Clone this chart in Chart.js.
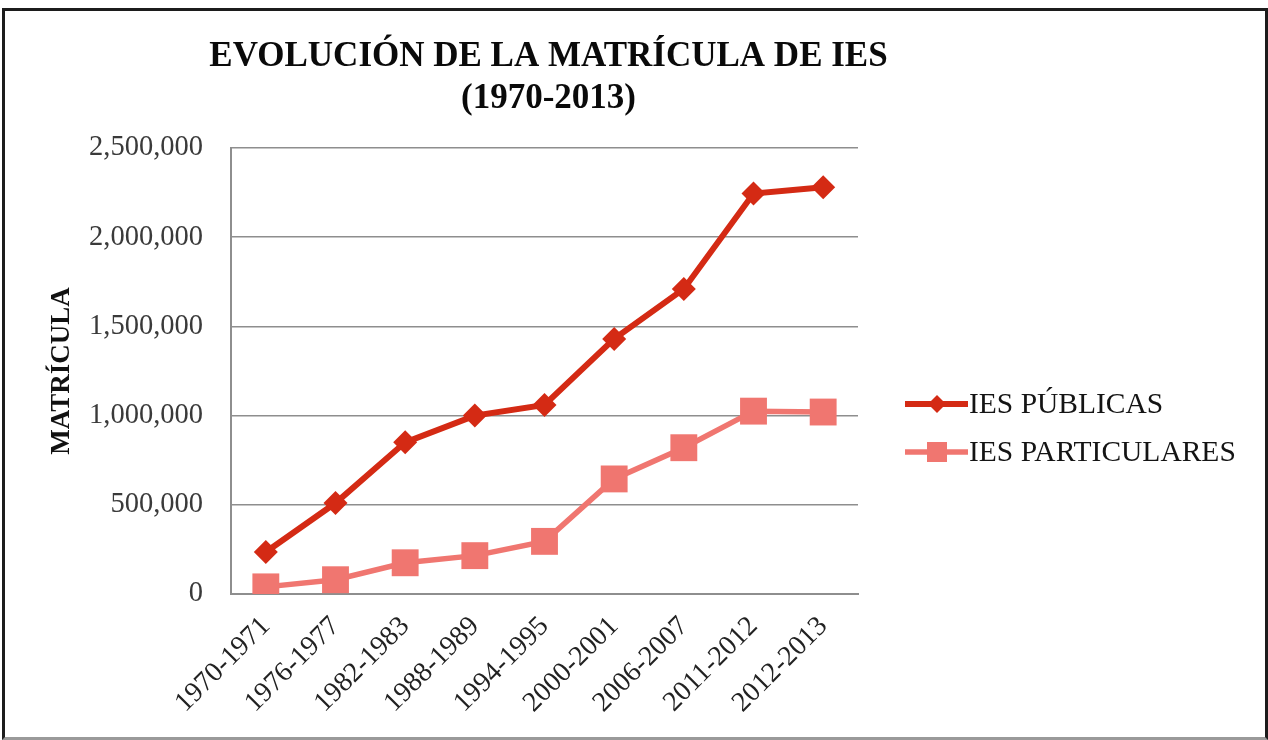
<!DOCTYPE html>
<html>
<head>
<meta charset="utf-8">
<script src="https://cdn.jsdelivr.net/npm/chart.js@4/dist/chart.umd.min.js"></script>
<style>
    html, body { margin: 0; padding: 0; background: #fff; }
    #wrap { position: relative; width: 1268px; height: 740px; }
    #frame {
        position: absolute; left: 2px; top: 8px; width: 1266px; height: 732px;
        border: 3px solid #1c1c1c; border-bottom-color: #9a9a9a; box-sizing: border-box;
    }
    canvas { position: absolute; left: 0; top: 0; }
</style>
</head>
<body>
<div id="wrap">
    <div id="frame"></div>
    <canvas id="chart" width="1268" height="740"></canvas>
</div>
<script>
    const periods = ['1970-1971', '1976-1977', '1982-1983', '1988-1989', '1994-1995',
        '2000-2001', '2006-2007', '2011-2012', '2012-2013'];
    const iesPublicas = [235000, 510000, 850000, 1000000, 1060000, 1430000, 1710000, 2245000, 2280000];
    const iesParticulares = [40000, 80000, 175000, 215000, 295000, 645000, 820000, 1025000, 1020000];
    const titleLines = ['EVOLUCIÓN DE LA MATRÍCULA DE IES', '(1970-2013)'];
    const yTitle = 'MATRÍCULA';
    const seriesNames = ['IES PÚBLICAS', 'IES PARTICULARES'];

    const serif = "'Liberation Serif', 'Times New Roman', serif";
    const colorPub = '#d42a14';
    const colorPart = '#f07670';

    // title centred a little right of the plot centre, like the original
    const topTitle = {
        id: 'topTitle',
        afterDraw(chart) {
            const ctx = chart.ctx;
            const cx = (chart.chartArea.left + chart.chartArea.right) / 2 + 4;
            ctx.save();
            ctx.fillStyle = '#0a0a0a';
            ctx.font = 'bold 35px ' + serif;
            ctx.textAlign = 'center';
            ctx.textBaseline = 'middle';
            titleLines.forEach((line, i) => ctx.fillText(line, cx, 57 + i * 42));
            ctx.restore();
        }
    };

    // legend on the right: line sample with marker, then the label
    const sideLegend = {
        id: 'sideLegend',
        afterDraw(chart) {
            const ctx = chart.ctx;
            const x0 = chart.chartArea.right + 47;
            const items = chart.data.datasets.map((ds, i) => ({ ds, y: 404 + i * 48 }));
            ctx.save();
            items.forEach(({ ds, y }) => {
                ctx.strokeStyle = ds.borderColor;
                ctx.lineWidth = ds.borderWidth;
                ctx.beginPath();
                ctx.moveTo(x0, y);
                ctx.lineTo(x0 + 63, y);
                ctx.stroke();
                ctx.fillStyle = ds.pointBackgroundColor;
                const cx = x0 + 32;
                ctx.beginPath();
                if (ds.pointStyle === 'rectRot') {
                    const r = 9;
                    ctx.moveTo(cx, y - r); ctx.lineTo(cx + r, y); ctx.lineTo(cx, y + r); ctx.lineTo(cx - r, y);
                    ctx.closePath();
                } else {
                    const r = 10;
                    ctx.rect(cx - r, y - r, 2 * r, 2 * r);
                }
                ctx.fill();
                ctx.fillStyle = '#141414';
                ctx.font = '29.5px ' + serif;
                ctx.textBaseline = 'middle';
                ctx.textAlign = 'left';
                ctx.fillText(ds.label, x0 + 64, y + 1);
            });
            ctx.restore();
        }
    };

    new Chart(document.getElementById('chart'), {
        type: 'line',
        data: {
            labels: periods,
            datasets: [{
                label: seriesNames[0],
                data: iesPublicas,
                borderColor: colorPub,
                backgroundColor: colorPub,
                pointBackgroundColor: colorPub,
                pointBorderColor: colorPub,
                borderWidth: 6,
                pointStyle: 'rectRot',
                pointRadius: 12,
                pointBorderWidth: 0,
                tension: 0
            }, {
                label: seriesNames[1],
                data: iesParticulares,
                borderColor: colorPart,
                backgroundColor: colorPart,
                pointBackgroundColor: colorPart,
                pointBorderColor: colorPart,
                borderWidth: 5.5,
                pointStyle: 'rect',
                pointRadius: 19,
                pointBorderWidth: 0,
                tension: 0
            }]
        },
        options: {
            responsive: false,
            animation: false,
            locale: 'en-US',
            layout: { padding: { top: 148, left: 20, right: 410, bottom: 0 } },
            plugins: {
                legend: { display: false },
                tooltip: { enabled: false },
                title: { display: false }
            },
            scales: {
                x: {
                    offset: true,
                    grid: { display: false },
                    border: { display: true, color: '#8e8e8e', width: 2 },
                    ticks: {
                        autoSkip: false,
                        minRotation: 45,
                        maxRotation: 45,
                        padding: 8,
                        color: '#222',
                        font: { family: serif, size: 28 }
                    },
                    afterFit(scale) { scale.height = 146; }
                },
                y: {
                    min: 0,
                    max: 2500000,
                    grid: { color: '#8e8e8e', lineWidth: 1.5, drawTicks: false },
                    border: { display: true, color: '#8e8e8e', width: 2 },
                    ticks: {
                        stepSize: 500000,
                        padding: 28,
                        color: '#3a3a3a',
                        font: { family: serif, size: 28.5 },
                        callback: v => v.toLocaleString('en-US')
                    },
                    title: {
                        display: true,
                        text: yTitle,
                        color: '#111',
                        font: { family: serif, size: 27, weight: 'bold', lineHeight: 1.2 },
                        padding: { top: 26, bottom: 0 }
                    },
                    afterFit(scale) { scale.width = 211; }
                }
            }
        },
        plugins: [topTitle, sideLegend]
    });
</script>
</body>
</html>
